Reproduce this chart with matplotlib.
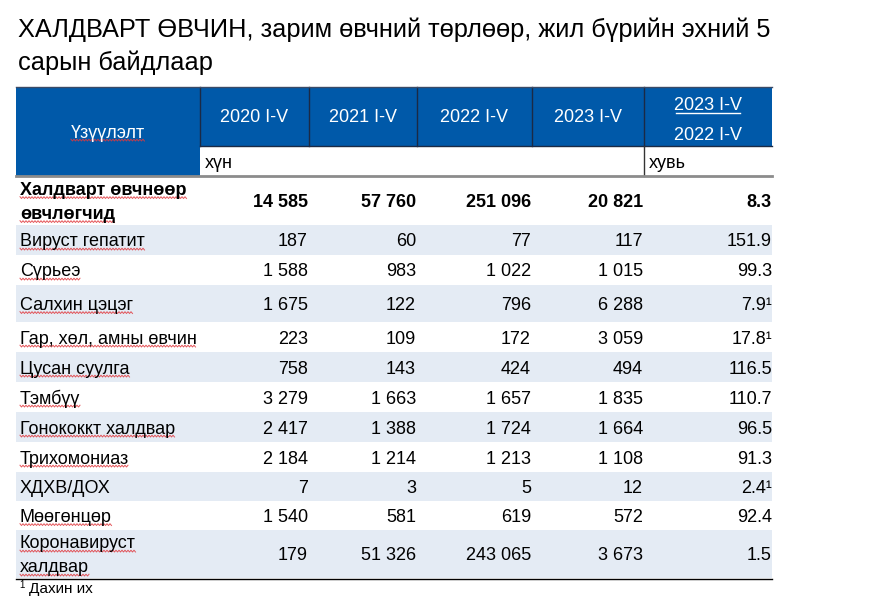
import matplotlib
matplotlib.use("Agg")
import matplotlib.pyplot as plt
import numpy as np
from matplotlib.patches import Rectangle

plt.rcParams['font.family'] = ['Liberation Sans', 'DejaVu Sans']

title_lines = ["ХАЛДВАРТ ӨВЧИН, зарим өвчний төрлөөр, жил бүрийн эхний 5",
               "сарын байдлаар"]
header_first = "Үзүүлэлт"
years = ["2020 I-V", "2021 I-V", "2022 I-V", "2023 I-V"]
ratio_top = "2023 I-V"
ratio_bottom = "2022 I-V"
unit_people = "хүн"
unit_percent = "хувь"

categories = ["Халдварт өвчнөөр\nөвчлөгчид", "Вируст гепатит", "Сүрьеэ", "Салхин цэцэг",
              "Гар, хөл, амны өвчин", "Цусан суулга", "Тэмбүү", "Гонококкт халдвар",
              "Трихомониаз", "ХДХВ/ДОХ", "Мөөгөнцөр", "Коронавируст\nхалдвар"]
spell_marked = [True, True, True, True, True, True, True, True, True, False, True, True]
v2020 = [14585, 187, 1588, 1675, 223, 758, 3279, 2417, 2184, 7, 1540, 179]
v2021 = [57760, 60, 983, 122, 109, 143, 1663, 1388, 1214, 3, 581, 51326]
v2022 = [251096, 77, 1022, 796, 172, 424, 1657, 1724, 1213, 5, 619, 243065]
v2023 = [20821, 117, 1015, 6288, 3059, 494, 1835, 1664, 1108, 12, 572, 3673]
ratio = [8.3, 151.9, 99.3, 7.9, 17.8, 116.5, 110.7, 96.5, 91.3, 2.4, 92.4, 1.5]
ratio_note = [False, False, False, True, True, False, False, False, False, True, False, False]
footnote = "Дахин их"

W, H = 886, 604
fig = plt.figure(figsize=(W / 100, H / 100), dpi=100)
ax = fig.add_axes([0, 0, 1, 1])
ax.set_xlim(0, W)
ax.set_ylim(H, 0)
ax.axis('off')

BLUE = '#0059A9'
SHADE = '#E4EBF4'
DIV = '#1B2A45'
SQUIG = '#E0393E'
FS = 13
HALF_CAP = 6.5

col_edges = [16, 200, 309, 417, 532, 644, 772]
row_edges = [176, 225, 255, 285, 322, 352, 382, 412, 442, 472, 501, 530, 578]
head_top, head_mid = 87, 146

squiggle_texts = []


def txt(x, yc, s, **kw):
    return ax.text(x, yc + HALF_CAP, s, fontsize=kw.pop('fontsize', FS), va='baseline', **kw)


# header
ax.add_patch(Rectangle((col_edges[0], head_top), col_edges[-1] - col_edges[0], head_mid - head_top,
                       facecolor=BLUE, edgecolor='none'))
ax.add_patch(Rectangle((col_edges[0], head_top), col_edges[1] - col_edges[0], row_edges[0] - head_top,
                       facecolor=BLUE, edgecolor='none'))
for x in col_edges[1:-1]:
    ax.plot([x, x], [head_top, head_mid], color=DIV, lw=1.0)
ax.plot([col_edges[0], col_edges[-1]], [head_top, head_top], color='#3A4A66', lw=1.0)
ax.plot([col_edges[1], col_edges[-1]], [head_mid, head_mid], color=DIV, lw=1.0)
ax.plot([col_edges[5], col_edges[5]], [head_mid, row_edges[0]], color='#333333', lw=1.0)
ax.plot([col_edges[0], col_edges[-1]], [row_edges[0], row_edges[0]], color='#8C8C8C', lw=2.0)

th = txt((col_edges[0] + col_edges[1]) / 2, 131, header_first, color='white', ha='center')
squiggle_texts.append((th, 131 + HALF_CAP))
for i, y in enumerate(years):
    txt((col_edges[i + 1] + col_edges[i + 2]) / 2, 116, y, color='white', ha='center')
cx = (col_edges[5] + col_edges[6]) / 2
txt(cx, 103, ratio_top, color='white', ha='center')
ax.plot([cx - 32, cx + 32], [113, 113], color='white', lw=1.0)
txt(cx, 133, ratio_bottom, color='white', ha='center')
txt(col_edges[1] + 5, 161, unit_people, color='black', ha='left')
txt(col_edges[5] + 5, 161, unit_percent, color='black', ha='left')


def fmt(v):
    return f"{v:,}".replace(",", " ")


for r, cat in enumerate(categories):
    y0, y1 = row_edges[r], row_edges[r + 1]
    yc = (y0 + y1) / 2
    if r % 2 == 1:
        ax.add_patch(Rectangle((col_edges[0], y0), col_edges[-1] - col_edges[0], y1 - y0,
                               facecolor=SHADE, edgecolor='none'))
    bold = 'bold' if r == 0 else 'normal'
    lines = cat.split("\n")
    n = len(lines)
    for k, ln in enumerate(lines):
        ly = yc + (k - (n - 1) / 2) * 24
        t = txt(col_edges[0] + 4, ly, ln, fontweight=bold, ha='left')
        if spell_marked[r]:
            squiggle_texts.append((t, ly + HALF_CAP))
    for c, vals in enumerate([v2020, v2021, v2022, v2023]):
        txt(col_edges[c + 2] - 1, yc, fmt(vals[r]), fontweight=bold, ha='right')
    rt = f"{ratio[r]:.1f}" + ("¹" if ratio_note[r] else "")
    txt(col_edges[6], yc, rt, fontweight=bold, ha='right')

ax.plot([col_edges[0], col_edges[-1]], [row_edges[-1] + 1, row_edges[-1] + 1], color='black', lw=1.0)

# title
ax.text(18, 37, title_lines[0], fontsize=18.3, ha='left', va='baseline')
ax.text(18, 70, title_lines[1], fontsize=18.3, ha='left', va='baseline')

# footnote
ax.text(19, 585, "1", fontsize=7, ha='left', va='center')
ax.text(29, 589, footnote, fontsize=11, ha='left', va='center')

# spell-check squiggles under marked labels
fig.canvas.draw()
renderer = fig.canvas.get_renderer()
inv = ax.transData.inverted()
for t, base in squiggle_texts:
    bb = t.get_window_extent(renderer)
    (xa, _), (xb, _) = inv.transform([(bb.x0, bb.y0), (bb.x1, bb.y1)])
    xs = np.arange(xa, xb + 0.1, 1.5)
    ys = base + 2.6 + 0.9 * np.where(np.arange(len(xs)) % 2 == 0, -1, 1)
    ax.plot(xs, ys, color=SQUIG, lw=0.7, alpha=0.85)

fig.savefig("out.png", dpi=100)
